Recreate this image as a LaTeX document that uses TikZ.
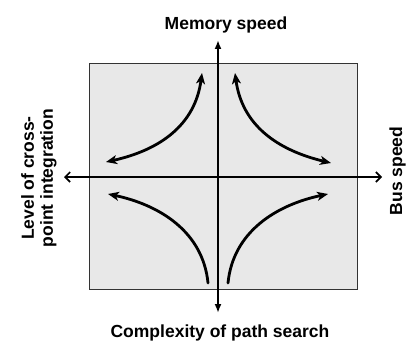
\documentclass[tikz,border=0pt]{standalone}
\usepackage{fontspec}
\setmainfont{Liberation Sans}
\usetikzlibrary{arrows.meta}
\begin{document}
\begin{tikzpicture}[x=1pt,y=-1pt,
  lbl/.style={font=\fontsize{17.5}{19}\selectfont\bfseries, inner sep=0pt, align=center},
  panel/.style={draw=black!80, line width=1pt, fill=black!9},
  vaxis/.style={line width=2.6pt, -{Latex[length=9pt,width=7pt]}},
  haxis/.style={line width=2.6pt, -{Straight Barb[length=5pt,width=10pt,line width=1.6pt]}},
  flow/.style={line width=2.8pt, line cap=round},
  tip/.tip={Stealth[length=11pt,width=9pt,inset=3pt]}
]
\useasboundingbox (0,0) rectangle (406,342);
\node[panel, minimum width=268pt, minimum height=225pt, inner sep=0pt] (box) at (223,176.5) {};
% axes
\coordinate (ctr) at (218,177);
\coordinate (top) at (218,40);
\coordinate (bot) at (218,313);
\coordinate (lft) at (64,177);
\coordinate (rgt) at (382,177);
\draw[vaxis] (ctr) -- (top);
\draw[vaxis] (ctr) -- (bot);
\draw[haxis] (ctr) -- (lft);
\draw[haxis] (ctr) -- (rgt);
% curves
\coordinate (ulA) at (106,162);
\coordinate (ulB) at (202,73);
\coordinate (urA) at (331,163);
\coordinate (urB) at (235,73);
\coordinate (llA) at (108,194);
\coordinate (llB) at (208,283);
\coordinate (lrA) at (328,194);
\coordinate (lrB) at (228,283);
\draw[flow, tip-tip] (ulA) .. controls (160,150) and (195,125) .. (ulB);
\draw[flow, tip-tip] (urA) .. controls (277,150) and (242,125) .. (urB);
\draw[flow, tip-] (llA) .. controls (160,205) and (203,232) .. (llB);
\draw[flow, tip-] (lrA) .. controls (276,205) and (233,232) .. (lrB);
% labels
\node[lbl, anchor=base] (mem) at (226,29.5) {Memory speed};
\node[lbl, anchor=base] (cpx) at (220,337.5) {Complexity of path search};
\node[lbl, rotate=90, anchor=base] (bus) at (402,171) {Bus speed};
\node[lbl, rotate=90] (lvl) at (39,178) {Level of cross-\\point integration};
\end{tikzpicture}
\end{document}
